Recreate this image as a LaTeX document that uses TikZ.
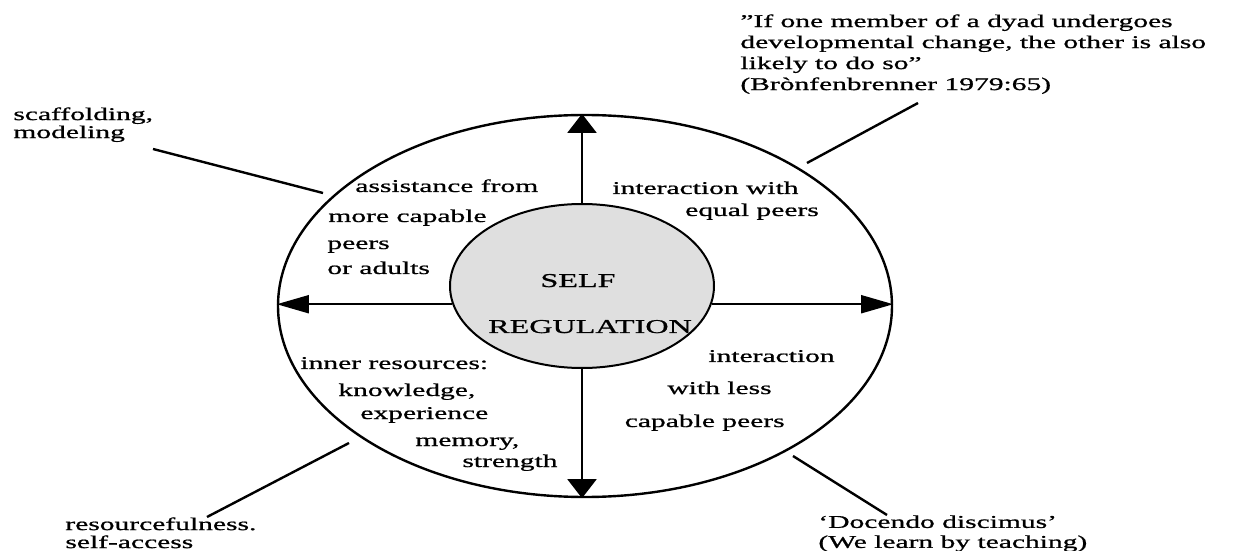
\documentclass[tikz,border=0pt]{standalone}
\usepackage{fontspec}
\setmainfont{Liberation Serif}[FakeStretch=1.64,FakeBold=0.9]
\usetikzlibrary{arrows.meta}
\usetikzlibrary{shapes.geometric}

\tikzset{
  ring/.style={ellipse, draw, inner sep=0pt},
  txt/.style={inner sep=0pt, font=\fontsize{9}{9}\selectfont},
  lbl/.style={txt, align=left, anchor=north west},
  lead/.style={line width=1.2pt},
  harrow/.style={-{Triangle[length=16pt,width=9pt]}, line width=0.9pt},
  varrow/.style={-{Triangle[length=9.5pt,width=14.5pt]}, line width=0.9pt},
}

\begin{document}
\begin{tikzpicture}[x=0.5pt, y=-0.5pt]
\useasboundingbox (0,0) rectangle (1239,551);

\node[ring, line width=1.2pt, minimum width=307pt, minimum height=191pt] (outer) at (585,306) {};
\node[ring, line width=1pt, fill=gray!25, minimum width=132pt, minimum height=82pt] (self) at (582,286) {};

\node[txt, anchor=base, font=\fontsize{9.8}{9.8}\selectfont] (selfA) at (578,287) {SELF};
\node[txt, anchor=base, font=\fontsize{9.8}{9.8}\selectfont] (selfB) at (590,333) {REGULATION};

% four arrows out of the centre
\draw[varrow] (self.north) -- (self.north |- outer.north);
\draw[varrow] (self.south) -- (self.south |- outer.south);
\draw[harrow] (self.188) -- (self.188 -| outer.west);
\draw[harrow] (self.-8) -- (self.-8 -| outer.east);

% text inside the ring
\node[txt, anchor=base west] (asA) at (355,192) {assistance from};
\node[txt, anchor=base west] (asB) at (328,222) {more capable};
\node[txt, anchor=base west] (asC) at (327,249) {peers};
\node[txt, anchor=base west] (asD) at (327,274) {or adults};

\node[txt, anchor=base west] (eqA) at (612,194) {interaction with};
\node[txt, anchor=base] (eqB) at (752,216) {equal peers};

\node[txt, anchor=base west] (inA) at (300,369) {inner resources:};
\node[txt, anchor=base west] (inB) at (338,396) {knowledge,};
\node[txt, anchor=base west] (inC) at (360,419) {experience};
\node[txt, anchor=base west] (inD) at (415,446) {memory,};
\node[txt, anchor=base west] (inE) at (462,467) {strength};

\node[txt, anchor=base west] (lsA) at (708,362) {interaction};
\node[txt, anchor=base east] (lsB) at (772,394) {with less};
\node[txt, anchor=base east] (lsC) at (785,427) {capable peers};

% labels outside
\node[lbl] (scaf) at (13,107) {scaffolding,\\modeling};
\node[lbl, font=\fontsize{9}{10.5}\selectfont] (quote) at (740,14) {”If one member of a dyad undergoes\\developmental change, the other is also\\likely to do so”\\(Brònfenbrenner 1979:65)};
\node[lbl] (res) at (65,517) {resourcefulness.\\self-access};
\node[lbl, font=\fontsize{9}{10}\selectfont] (doc) at (818,515) {‘Docendo discimus’\\(We learn by teaching)};

\coordinate (scafA) at (153,149);
\coordinate (scafB) at (323,193);
\coordinate (quoteA) at (918,103);
\coordinate (quoteB) at (807,163);
\coordinate (resA) at (207,517);
\coordinate (resB) at (349,443);
\coordinate (docA) at (887,515);
\coordinate (docB) at (793,456);

\draw[lead] (scafA) -- (scafB);
\draw[lead] (quoteA) -- (quoteB);
\draw[lead] (resA) -- (resB);
\draw[lead] (docA) -- (docB);

\end{tikzpicture}
\end{document}
